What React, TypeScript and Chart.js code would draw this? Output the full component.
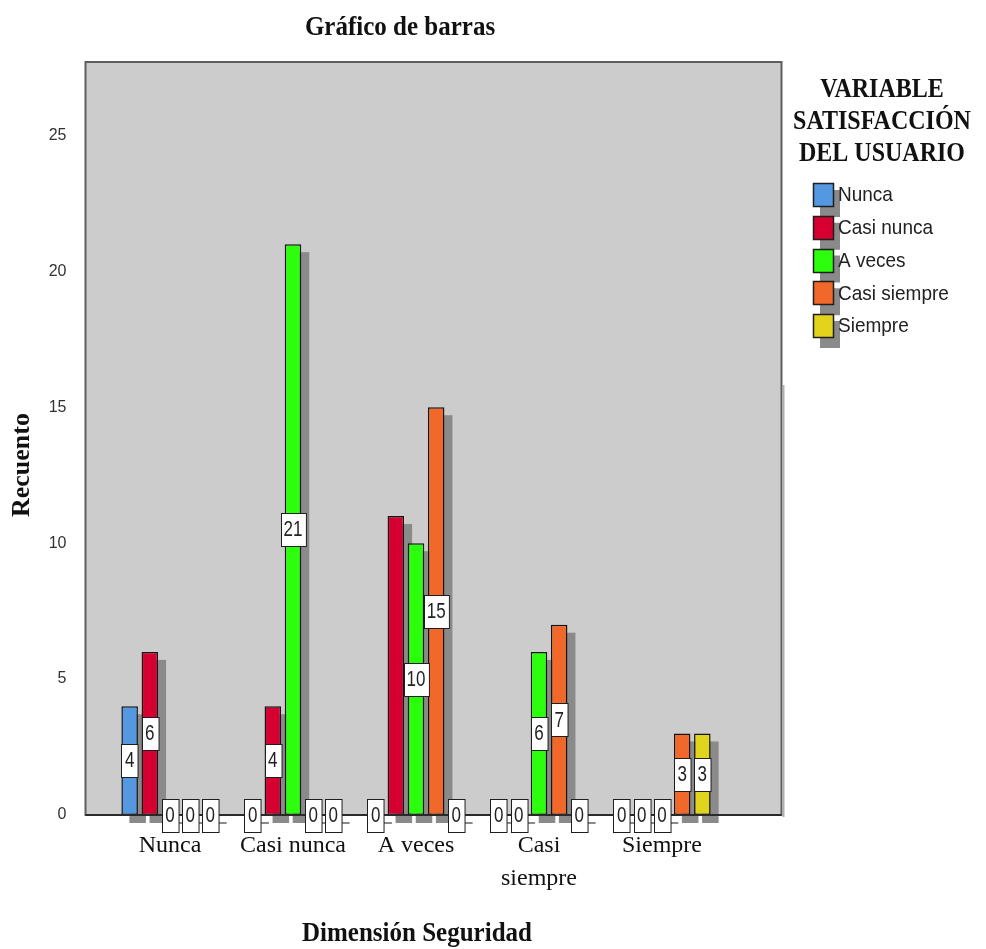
import React, { useEffect, useRef } from "react";
import { Chart, registerables } from "chart.js";

Chart.register(...registerables);

// ---- data ----
const categories: (string | string[])[] = ["Nunca", "Casi nunca", "A veces", ["Casi", "siempre"], "Siempre"];
const seriesNames = ["Nunca", "Casi nunca", "A veces", "Casi siempre", "Siempre"];
const seriesColors = ["#5598e2", "#d5002f", "#2bff0c", "#f2682a", "#e2d41c"];
const nunca = [4, 0, 0, 0, 0];
const casiNunca = [6, 4, 11, 0, 0];
const aVeces = [0, 21, 10, 6, 0];
const casiSiempre = [0, 0, 15, 7, 3];
const siempre = [0, 0, 0, 0, 3];
// labels not shown in the reference: [datasetIndex, categoryIndex]
const hiddenLabels = [[1, 2]];
const yTickValues = [0, 5, 10, 15, 20, 25];
const yMax = 27.7;

const chartTitle = "Gráfico de barras";
const xTitle = "Dimensión Seguridad";
const yTitle = "Recuento";
const legendTitle = ["VARIABLE", "SATISFACCIÓN", "DEL USUARIO"];

const SERIF = "'Liberation Serif', 'Times New Roman', serif";
const SANS = "'Liberation Sans', Arial, sans-serif";

function stretchedText(ctx: any, text: string, x: number, y: number, sy: number) {
  ctx.save();
  ctx.translate(x, y);
  ctx.scale(1, sy);
  ctx.fillText(text, 0, 0);
  ctx.restore();
}

const spssPlugin = {
  id: "spss",
  beforeDraw(chart: any) {
    const { ctx, chartArea: ca } = chart;
    ctx.save();
    ctx.fillStyle = "#ffffff";
    ctx.fillRect(0, 0, chart.width, chart.height);
    const L = ca.left - 23;
    const R = ca.right + 58;
    ctx.fillStyle = "#cccccc";
    ctx.fillRect(L, ca.top, R - L, ca.bottom - ca.top);
    ctx.strokeStyle = "#5e5e5e";
    ctx.lineWidth = 2;
    ctx.strokeRect(L, ca.top, R - L, ca.bottom - ca.top);
    ctx.strokeStyle = "#b0b0b0";
    ctx.lineWidth = 2;
    ctx.beginPath();
    ctx.moveTo(R + 2, ca.top + 323);
    ctx.lineTo(R + 2, ca.bottom + 2);
    ctx.stroke();
    ctx.restore();
  },
  beforeDatasetsDraw(chart: any) {
    const { ctx } = chart;
    ctx.save();
    ctx.fillStyle = "#8a8a8a";
    chart.data.datasets.forEach((ds: any, di: number) => {
      const meta = chart.getDatasetMeta(di);
      meta.data.forEach((el: any, i: number) => {
        const v = ds.data[i];
        const w = el.width;
        const x0 = el.x - w / 2 + 8;
        if (v === 0) {
          ctx.fillRect(x0, el.base + 7, w, 2);
        } else {
          ctx.fillRect(x0, el.y + 8, w, el.base - el.y);
        }
      });
    });
    ctx.restore();
  },
  afterDatasetsDraw(chart: any) {
    const { ctx, chartArea: ca } = chart;
    ctx.save();
    const L = ca.left - 23;
    const R = ca.right + 58;
    ctx.strokeStyle = "#2a2a2a";
    ctx.lineWidth = 2;
    ctx.beginPath();
    ctx.moveTo(L, ca.bottom);
    ctx.lineTo(R, ca.bottom);
    ctx.stroke();

    ctx.font = `17px ${SANS}`;
    ctx.textAlign = "center";
    ctx.textBaseline = "middle";
    chart.data.datasets.forEach((ds: any, di: number) => {
      const meta = chart.getDatasetMeta(di);
      meta.data.forEach((el: any, i: number) => {
        if (hiddenLabels.some((h) => h[0] === di && h[1] === i)) return;
        const v = ds.data[i];
        const text = String(v);
        const tw = ctx.measureText(text).width;
        const bw = Math.max(el.width, tw + 6);
        const bh = 33;
        const cy = v === 0 ? el.base : (el.y + el.base) / 2;
        const bx = Math.round(el.x - bw / 2) + 0.5;
        const by = Math.round(cy - bh / 2) + 0.5;
        ctx.fillStyle = "#ffffff";
        ctx.fillRect(bx, by, bw, bh);
        ctx.strokeStyle = "#1e1e1e";
        ctx.lineWidth = 1;
        ctx.strokeRect(bx, by, bw, bh);
        ctx.fillStyle = "#222222";
        stretchedText(ctx, text, el.x, cy + 1, 1.25);
      });
    });
    ctx.restore();
  },
  afterDraw(chart: any) {
    const { ctx } = chart;
    ctx.save();
    ctx.fillStyle = "#111111";
    ctx.textAlign = "center";
    ctx.textBaseline = "middle";
    ctx.font = `bold 25px ${SERIF}`;
    stretchedText(ctx, chartTitle, 400, 28, 1.1);
    stretchedText(ctx, xTitle, 417, 934, 1.1);
    ctx.save();
    ctx.translate(22, 465);
    ctx.rotate(-Math.PI / 2);
    ctx.font = `bold 26px ${SERIF}`;
    ctx.fillText(yTitle, 0, 0);
    ctx.restore();

    // legend
    ctx.font = `bold 24px ${SERIF}`;
    ctx.textBaseline = "alphabetic";
    legendTitle.forEach((t, i) => stretchedText(ctx, t, 882, 97 + i * 32, 1.1));
    const bx = 813;
    const top0 = 183;
    const step = 32.75;
    const bw = 20;
    const bh = 23;
    ctx.fillStyle = "#8a8a8a";
    seriesNames.forEach((_, i) => {
      ctx.fillRect(bx + 7, top0 + i * step + 7, bw, bh + 4);
    });
    seriesNames.forEach((_, i) => {
      const y = Math.round(top0 + i * step) + 0.5;
      ctx.fillStyle = seriesColors[i];
      ctx.fillRect(bx + 0.5, y, bw, bh);
      ctx.strokeStyle = "#1e1e1e";
      ctx.lineWidth = 1.5;
      ctx.strokeRect(bx + 0.5, y, bw, bh);
    });
    ctx.font = `19px ${SANS}`;
    ctx.textAlign = "left";
    ctx.textBaseline = "middle";
    ctx.fillStyle = "#222222";
    seriesNames.forEach((n, i) => {
      stretchedText(ctx, n, 838, top0 + i * step + bh / 2 + 1, 1.1);
    });
    ctx.restore();
  },
};

export default function App() {
  const ref = useRef<HTMLCanvasElement | null>(null);
  useEffect(() => {
    document.body.style.margin = "0";
    const canvas = ref.current!;
    const seriesValues = [nunca, casiNunca, aVeces, casiSiempre, siempre];
    const chart = new Chart(canvas, {
      type: "bar",
      data: {
        labels: categories as any,
        datasets: seriesNames.map((name, i) => ({
          label: name,
          data: seriesValues[i],
          backgroundColor: seriesColors[i],
          borderColor: "#151515",
          borderWidth: 1.5,
          borderSkipped: false,
          categoryPercentage: 0.82,
          barPercentage: 0.82,
        })),
      },
      options: {
        animation: false,
        responsive: false,
        devicePixelRatio: 1,
        layout: { padding: { left: 0, top: 62, right: 262.5, bottom: 0 } },
        plugins: {
          legend: { display: false },
          title: { display: false },
          tooltip: { enabled: false },
        },
        scales: {
          x: {
            type: "category",
            grid: { display: false, drawTicks: false },
            border: { display: false },
            ticks: {
              autoSkip: false,
              maxRotation: 0,
              padding: 15,
              color: "#111111",
              font: { family: SERIF, size: 24, lineHeight: 1.35 },
            },
            afterFit: (s: any) => {
              s.height = 134;
            },
          },
          y: {
            type: "linear",
            min: 0,
            max: yMax,
            grid: { display: false, drawTicks: false },
            border: { display: false },
            afterBuildTicks: (s: any) => {
              s.ticks = yTickValues.map((v) => ({ value: v }));
            },
            ticks: {
              padding: 42,
              color: "#333333",
              font: { family: SANS, size: 16 },
            },
            afterFit: (s: any) => {
              s.width = 108.5;
            },
          },
        },
      },
      plugins: [spssPlugin],
    } as any);
    return () => chart.destroy();
  }, []);
  return <canvas ref={ref} width={986} height={949} style={{ display: "block" }} />;
}
